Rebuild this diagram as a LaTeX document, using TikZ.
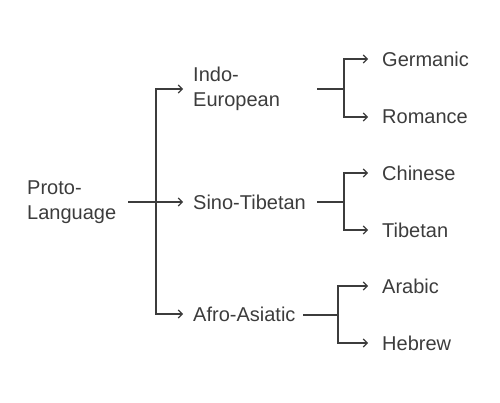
\documentclass[tikz,border=0pt]{standalone}
\usepackage{fontspec}
\setmainfont{Liberation Sans}
\usetikzlibrary{arrows.meta}
\definecolor{ink}{HTML}{3C3C3C}

\begin{document}
\begin{tikzpicture}[x=1pt,y=-1pt,>={Straight Barb[length=4pt,width=8pt]},
    lang/.style={anchor=west,inner sep=0pt,align=left,text=ink,font=\fontsize{20}{24.5}\selectfont},
    branch/.style={draw=ink,line width=1.1pt}]
    \useasboundingbox (0,0) rectangle (500,403);
    % root
    \node[lang] (proto) at (27,202) {Proto-\\Language};
    % families
    \node[lang] (indo) at (193,89) {Indo-\\European};
    \node[lang] (sino) at (193,202) {Sino-Tibetan};
    \node[lang] (afro) at (193,314) {Afro-Asiatic};
    % languages
    \node[lang] (germanic) at (382,59) {Germanic};
    \node[lang] (romance) at (382,117) {Romance};
    \node[lang] (chinese) at (382,173) {Chinese};
    \node[lang] (tibetan) at (382,230) {Tibetan};
    \node[lang] (arabic) at (382,286) {Arabic};
    \node[lang] (hebrew) at (382,343) {Hebrew};
    % junctions
    \coordinate (rootJ) at (156,202);
    \coordinate (indoS) at (317,89);
    \coordinate (indoJ) at (344,89);
    \coordinate (sinoS) at (317,202);
    \coordinate (sinoJ) at (344,202);
    \coordinate (afroS) at (303,315);
    \coordinate (afroJ) at (338,315);
    % connectors
    \draw[branch,shorten <=12pt] (proto) -- (rootJ);
    \foreach \fam in {indo,sino,afro}
        \draw[branch,->,shorten >=10pt] (rootJ) |- (\fam);
    \foreach \fam in {indo,sino,afro}
        \draw[branch] (\fam S) -- (\fam J);
    \foreach \fam/\lang in {indo/germanic,indo/romance,sino/chinese,sino/tibetan,afro/arabic,afro/hebrew}
        \draw[branch,->,shorten >=14pt] (\fam J) |- (\lang);
\end{tikzpicture}
\end{document}
